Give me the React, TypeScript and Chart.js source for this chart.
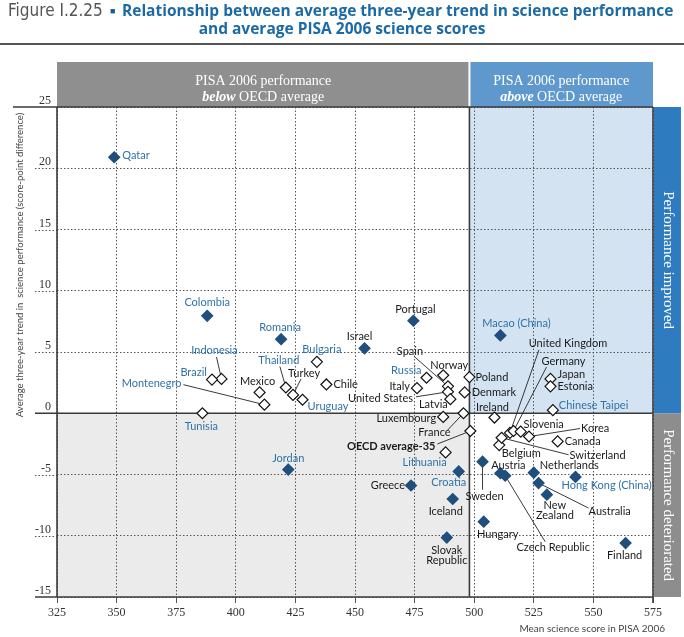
import React, { useEffect, useRef } from "react";
import { Chart, registerables } from "chart.js";
Chart.register(...registerables);

// ---------- DATA ----------
const countries = [
  "Qatar", "Colombia", "Romania", "Indonesia", "Brazil", "Mexico", "Montenegro", "Thailand",
  "Turkey", "Uruguay", "Bulgaria", "Chile", "Tunisia", "Jordan", "Israel", "Portugal",
  "Spain", "Norway", "Russia", "Poland", "Italy", "United States", "Latvia", "Denmark",
  "Luxembourg", "France", "OECD average-35", "Ireland", "Lithuania", "Croatia", "Greece",
  "Iceland", "Slovak Republic", "Sweden", "Austria", "Czech Republic", "Hungary",
  "Netherlands", "Hong Kong (China)", "Australia", "New Zealand", "Finland", "Macao (China)",
  "United Kingdom", "Germany", "Japan", "Estonia", "Chinese Taipei", "Slovenia", "Korea",
  "Canada", "Belgium", "Switzerland",
];

// Mean science score in PISA 2006
const scores = [
  349, 388, 419, 394, 390, 410, 412, 421,
  424, 428, 434, 438, 386, 422, 454, 474.5,
  489, 487, 480, 498, 476, 489, 490, 496,
  487, 495.5, 498.4, 508.5, 488, 493.5, 473.5,
  491, 488.5, 503.5, 511, 513, 504,
  525, 542.5, 527, 530.5, 563.5, 511,
  515, 516.5, 532, 532, 533, 519.5, 523,
  535, 510.5, 511.5,
];

// Average three-year trend in science performance
const trends = [
  20.9, 7.95, 6.05, 2.8, 2.75, 1.7, 0.7, 2.1,
  1.5, 1.1, 4.2, 2.35, 0, -4.6, 5.3, 7.55,
  2.2, 3.1, 2.9, 2.95, 2.05, 1.75, 1.15, 1.7,
  -0.3, 0, -1.45, -0.35, -3.2, -4.75, -5.9,
  -7.0, -10.15, -3.95, -4.9, -5.1, -8.85,
  -4.85, -5.2, -5.7, -6.65, -10.6, 6.35,
  -1.6, -1.45, 2.8, 2.2, 0.25, -1.5, -1.9,
  -2.3, -2.6, -2.0,
];

// statistically significant trend (filled marker)
const significant = [
  1, 1, 1, 0, 0, 0, 0, 0,
  0, 0, 0, 0, 0, 1, 1, 1,
  0, 0, 0, 0, 0, 0, 0, 0,
  0, 0, 0, 0, 0, 1, 1,
  1, 1, 1, 1, 1, 1,
  1, 1, 1, 1, 1, 1,
  0, 0, 0, 0, 0, 0, 0,
  0, 0, 0,
];

// partner economies (label in blue)
const partner = [
  1, 1, 1, 1, 1, 0, 1, 1,
  0, 1, 1, 0, 1, 1, 0, 0,
  0, 0, 1, 0, 0, 0, 0, 0,
  0, 0, 0, 0, 1, 1, 0,
  0, 0, 0, 0, 0, 0,
  0, 1, 0, 0, 0, 1,
  0, 0, 0, 0, 1, 0, 0,
  0, 0, 0,
];

const xTicks = [325, 350, 375, 400, 425, 450, 475, 500, 525, 550, 575];
const yTicks = [-15, -10, -5, 0, 5, 10, 15, 20, 25];
const oecdAverageScore = 498;

// ---------- LABEL LAYOUT (pixel offsets from the marker) ----------
// [dx, dy, align, leaderDx?, leaderDy?]
const labelLayout: Record<string, any[]> = {
  "Qatar": [8, -2, "left"],
  "Colombia": [0, -13, "center"],
  "Romania": [-1, -12, "center"],
  "Indonesia": [-7, -28, "center", -5, -22],
  "Brazil": [-5, -7, "right"],
  "Mexico": [-2, -11, "center"],
  "Montenegro": [-83, -21, "right", -81, -20],
  "Thailand": [-7, -27, "center", -6, -21],
  "Turkey": [11, -21, "center", 8, -16],
  "Uruguay": [5, 7, "left"],
  "Bulgaria": [5, -12, "center"],
  "Chile": [7, 0, "left"],
  "Tunisia": [-1, 13, "center"],
  "Jordan": [0, -11, "center"],
  "Israel": [-5, -12, "center"],
  "Portugal": [2, -11, "center"],
  "Spain": [-38, -35, "center", -34, -30],
  "Norway": [6, -10, "center"],
  "Russia": [-5, -7, "right"],
  "Poland": [6, 0, "left"],
  "Italy": [-7, -2, "right"],
  "United States": [-35, 7, "right", -32, 5],
  "Latvia": [-17, 5, "center"],
  "Denmark": [7, 0, "left"],
  "Luxembourg": [-7, 2, "right"],
  "France": [-29, 19, "center", -16, 17],
  "OECD average-35": [-35, 15, "right", -33, 13],
  "Ireland": [-2, -10, "center"],
  "Lithuania": [-21, 10, "center"],
  "Croatia": [-10, 11, "center"],
  "Greece": [-6, 0, "right"],
  "Iceland": [-7, 12, "center"],
  "Slovak Republic": [0, 13, "center"],
  "Sweden": [2, 35, "center", 0, 28],
  "Austria": [8, -8, "center"],
  "Czech Republic": [48, 72, "center", 40, 66],
  "Hungary": [14, 13, "center"],
  "Netherlands": [6, -7, "left"],
  "Hong Kong (China)": [-14, 9, "left"],
  "Australia": [50, 28, "left", 50, 25],
  "New Zealand": [8, 11, "center"],
  "Finland": [-1, 12, "center"],
  "Macao (China)": [16, -12, "center"],
  "United Kingdom": [58, -89, "center", 29, -83],
  "Germany": [50, -70, "center", 33, -64],
  "Japan": [7, -4, "left"],
  "Estonia": [7, 0, "left"],
  "Chinese Taipei": [6, -5, "left"],
  "Slovenia": [23, -7, "center"],
  "Korea": [52, -8, "left", 51, -8],
  "Canada": [7, 0, "left"],
  "Belgium": [22, 8, "center"],
  "Switzerland": [96, 18, "center", 67, 17],
};
const multiLine: Record<string, string[]> = {
  "Slovak Republic": ["Slovak", "Republic"],
  "New Zealand": ["New", "Zealand"],
};

const NAVY = "#1f4f7d";
const LABEL_BLUE = "#2f73a8";
const LABEL_FONT = "Lato";
const SERIF = "'Liberation Serif'";

const decor = {
  id: "decor",
  beforeDraw(chart: any) {
    const { ctx, chartArea: a, scales } = chart;
    const x = scales.x, y = scales.y;
    const xd = x.getPixelForValue(oecdAverageScore);
    const y0 = y.getPixelForValue(0);
    ctx.save();
    // quadrant backgrounds
    ctx.fillStyle = "#d3e3f2";
    ctx.fillRect(xd, a.top, a.right - xd, y0 - a.top);
    ctx.fillStyle = "#ebebeb";
    ctx.fillRect(a.left, y0, xd - a.left, a.bottom - y0);

    // header boxes
    const hTop = 62;
    ctx.fillStyle = "#8f8f8f";
    ctx.fillRect(a.left, hTop, xd - 1 - a.left, a.top - hTop);
    ctx.fillStyle = "#5f98cc";
    ctx.fillRect(xd + 1, hTop, a.right - xd - 1, a.top - hTop);

    const drawHeader = (cx: number, word: string) => {
      ctx.fillStyle = "#ffffff";
      ctx.textBaseline = "middle";
      ctx.textAlign = "center";
      ctx.font = `14px ${SERIF}`;
      ctx.fillText("PISA 2006 performance", cx, a.top - 26);
      const boldFont = `italic bold 14px ${SERIF}`;
      const normFont = `14px ${SERIF}`;
      ctx.font = boldFont;
      const w1 = ctx.measureText(word).width;
      ctx.font = normFont;
      const rest = " OECD average";
      const w2 = ctx.measureText(rest).width;
      const start = cx - (w1 + w2) / 2;
      ctx.textAlign = "left";
      ctx.font = boldFont;
      ctx.fillText(word, start, a.top - 10);
      ctx.font = normFont;
      ctx.fillText(rest, start + w1, a.top - 10);
    };
    drawHeader((a.left + xd) / 2, "below");
    drawHeader((xd + a.right) / 2, "above");

    // right side bars
    const bx = a.right + 1, bw = 27;
    ctx.fillStyle = "#2e7bbf";
    ctx.fillRect(bx, a.top, bw, y0 - a.top);
    ctx.fillStyle = "#8d8d8d";
    ctx.fillRect(bx, y0, bw, a.bottom - y0);
    const vText = (t: string, cy: number) => {
      ctx.save();
      ctx.translate(bx + bw / 2, cy);
      ctx.rotate(Math.PI / 2);
      ctx.fillStyle = "#ffffff";
      ctx.font = `15px ${SERIF}`;
      ctx.textAlign = "center";
      ctx.textBaseline = "middle";
      ctx.fillText(t, 0, 0);
      ctx.restore();
    };
    vText("Performance improved", (a.top + y0) / 2);
    vText("Performance deteriorated", (y0 + a.bottom) / 2);
    ctx.restore();
  },
  beforeDatasetsDraw(chart: any) {
    const { ctx, chartArea: a, scales } = chart;
    const x = scales.x, y = scales.y;
    const xd = x.getPixelForValue(oecdAverageScore);
    ctx.save();
    // dashed tick extensions on the left
    ctx.strokeStyle = "#555";
    ctx.lineWidth = 1;
    ctx.setLineDash([1.5, 2]);
    yTicks.forEach((v) => {
      if (v === 0 || v === 25 || v === -15) return;
      const py = Math.round(y.getPixelForValue(v)) + 0.5;
      ctx.beginPath();
      ctx.moveTo(35, py);
      ctx.lineTo(a.left, py);
      ctx.stroke();
    });
    ctx.setLineDash([]);
    ctx.strokeStyle = "#3a3a3a";
    ctx.lineWidth = 1.6;
    const hl = (v: number, x1: number) => {
      const py = y.getPixelForValue(v);
      ctx.beginPath();
      ctx.moveTo(x1, py);
      ctx.lineTo(a.right, py);
      ctx.stroke();
    };
    hl(25, 13);
    hl(0, 35);
    hl(-15, 35);
    const vl = (v: number, extra: number) => {
      const px = x.getPixelForValue(v);
      ctx.beginPath();
      ctx.moveTo(px, a.top);
      ctx.lineTo(px, a.bottom + extra);
      ctx.stroke();
    };
    vl(325, 0);
    vl(575, 6);
    ctx.beginPath();
    ctx.moveTo(xd, a.top);
    ctx.lineTo(xd, a.bottom);
    ctx.stroke();

    // leader lines
    ctx.strokeStyle = "#222";
    ctx.lineWidth = 0.9;
    countries.forEach((c, i) => {
      const L = labelLayout[c];
      if (!L || L.length < 5) return;
      const px = x.getPixelForValue(scores[i]);
      const py = y.getPixelForValue(trends[i]);
      ctx.beginPath();
      ctx.moveTo(px + L[3], py + L[4]);
      ctx.lineTo(px, py);
      ctx.stroke();
    });
    ctx.restore();
  },
  afterDatasetsDraw(chart: any) {
    const { ctx, scales } = chart;
    const x = scales.x, y = scales.y;
    ctx.save();
    ctx.textBaseline = "middle";
    countries.forEach((c, i) => {
      const L = labelLayout[c];
      if (!L) return;
      const px = x.getPixelForValue(scores[i]);
      const py = y.getPixelForValue(trends[i]);
      const bold = c === "OECD average-35";
      ctx.font = `${bold ? "bold " : ""}11px ${LABEL_FONT}`;
      ctx.fillStyle = partner[i] ? LABEL_BLUE : "#1a1a1a";
      ctx.textAlign = L[2];
      const lines = multiLine[c] || [c];
      lines.forEach((t, k) => {
        ctx.fillText(t, px + L[0], py + L[1] + k * 10);
      });
    });
    ctx.restore();
  },
  afterDraw(chart: any) {
    const { ctx } = chart;
    ctx.save();
    ctx.fillStyle = "#444";
    ctx.font = `10px ${LABEL_FONT}`;
    ctx.textBaseline = "middle";
    ctx.textAlign = "right";
    ctx.fillText("Mean science score in PISA 2006", 665, 629);
    ctx.translate(20, 265);
    ctx.rotate(-Math.PI / 2);
    ctx.textAlign = "center";
    ctx.font = `9.5px ${LABEL_FONT}`;
    ctx.fillText("Average three-year trend in  science performance (score-point difference)", 0, 0);
    ctx.restore();
  },
};

export default function App() {
  const ref = useRef<HTMLCanvasElement>(null);
  useEffect(() => {
    document.body.style.margin = "0";
    let chart: any = null;
    let cancelled = false;
    const fonts: any = (document as any).fonts;
    const ready = fonts
      ? Promise.all([
          fonts.load("11px Lato"),
          fonts.load("bold 11px Lato"),
          fonts.load("12px 'Liberation Serif'"),
          fonts.load("italic bold 13px 'Liberation Serif'"),
        ]).catch(() => null)
      : Promise.resolve(null);
    ready.then(() => {
      if (cancelled || !ref.current) return;
      chart = new Chart(ref.current, {
        type: "scatter",
        data: {
          datasets: [
            {
              data: scores.map((s, i) => ({ x: s, y: trends[i] })),
              pointStyle: "rectRot",
              pointRadius: 5.5,
              pointHoverRadius: 5.5,
              pointBackgroundColor: significant.map((f) => (f ? NAVY : "#ffffff")),
              pointBorderColor: significant.map((f) => (f ? NAVY : "#111111")),
              pointBorderWidth: 1.2,
            },
          ],
        },
        options: {
          animation: false,
          responsive: true,
          maintainAspectRatio: false,
          events: [],
          layout: { padding: { top: 107, right: 31, left: 0, bottom: 0 } },
          plugins: { legend: { display: false }, tooltip: { enabled: false } },
          scales: {
            x: {
              type: "linear",
              min: 325,
              max: 575,
              afterBuildTicks: (s: any) => {
                s.ticks = xTicks.map((v) => ({ value: v }));
              },
              afterFit: (s: any) => {
                s.height = 40;
              },
              grid: { color: "#555", lineWidth: 1, drawTicks: true, tickLength: 6, tickColor: "#555" },
              border: { display: false, dash: [1.5, 2] },
              ticks: {
                padding: 3,
                autoSkip: false,
                maxRotation: 0,
                color: "#333",
                font: { family: SERIF, size: 12 },
              },
            },
            y: {
              type: "linear",
              min: -15,
              max: 25,
              afterBuildTicks: (s: any) => {
                s.ticks = yTicks.map((v) => ({ value: v }));
              },
              afterFit: (s: any) => {
                s.width = 57;
              },
              grid: { color: "#555", lineWidth: 1, drawTicks: false },
              border: { display: false, dash: [1.5, 2] },
              ticks: {
                padding: 6,
                labelOffset: -6,
                color: "#333",
                font: { family: SERIF, size: 12 },
              },
            },
          },
        },
        plugins: [decor],
      } as any);
    });
    return () => {
      cancelled = true;
      if (chart) chart.destroy();
    };
  }, []);

  const titleBlue = "#1b6aa5";
  return (
    <div style={{ position: "relative", width: 684, height: 637, overflow: "hidden", background: "#fff" }}>
      <div style={{ position: "absolute", left: 0, top: 0, width: 684, height: 637 }}>
        <canvas ref={ref} />
      </div>
      <div
        style={{
          position: "absolute",
          left: 8,
          top: 0,
          whiteSpace: "nowrap",
          lineHeight: "20px",
          fontFamily: "'DejaVu Sans Condensed','DejaVu Sans',sans-serif",
          fontStretch: "condensed",
          fontSize: 17,
          color: "#555",
        }}
      >
        Figure I.2.25
      </div>
      <div
        style={{
          position: "absolute",
          left: 110,
          top: 1,
          lineHeight: "20px",
          fontSize: 9,
          color: "#1c5d8f",
        }}
      >
        ■
      </div>
      <div
        style={{
          position: "absolute",
          left: 122,
          top: 0,
          whiteSpace: "nowrap",
          lineHeight: "20px",
          fontFamily: "'Open Sans',sans-serif",
          fontWeight: 700,
          fontSize: 15.5,
          color: titleBlue,
        }}
      >
        Relationship between average three-year trend in science performance
      </div>
      <div
        style={{
          position: "absolute",
          left: 0,
          top: 18,
          width: 684,
          textAlign: "center",
          whiteSpace: "nowrap",
          lineHeight: "20px",
          fontFamily: "'Open Sans',sans-serif",
          fontWeight: 700,
          fontSize: 15.5,
          color: titleBlue,
        }}
      >
        and average PISA 2006 science scores
      </div>
      <div style={{ position: "absolute", left: 0, top: 43, width: 684, height: 2, background: "#555" }} />
    </div>
  );
}
